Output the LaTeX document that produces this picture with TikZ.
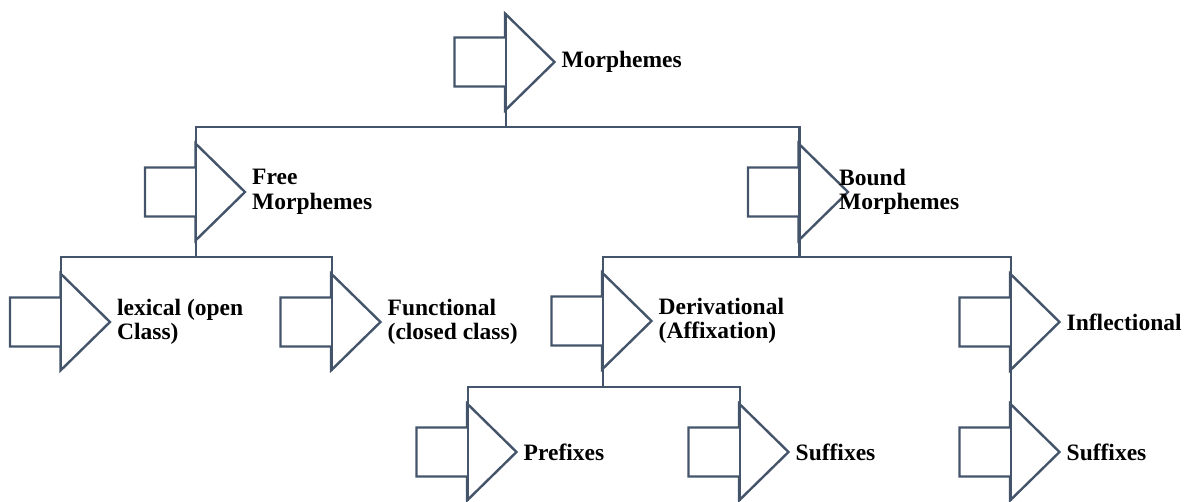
\documentclass[tikz,border=0pt]{standalone}
\usepackage{fontspec}
\setmainfont{Liberation Serif}
\usetikzlibrary{shapes.arrows}
\definecolor{slate}{HTML}{44546A}

\tikzset{
  blockarrow/.style={single arrow, inner xsep=0pt, inner ysep=24.5pt,
    outer sep=0pt, minimum height=100pt, minimum width=97pt, single arrow head extend=24pt,
    single arrow tip angle=90, anchor=tip},
  lbl/.style={anchor=west, align=left, inner sep=0pt, xshift=7pt,
    font=\bfseries\fontsize{23.5}{24.5}\selectfont},
  tree/.style={draw=slate, line width=2.4pt},
}

\begin{document}
\begin{tikzpicture}[x=1pt, y=-1pt]
\useasboundingbox (0, 0) rectangle (1189, 502);
% arrows
\node[blockarrow] (morph) at (554.5, 62) {};
\node[blockarrow] (free) at (245, 192) {};
\node[blockarrow] (bound) at (848, 192) {};
\node[blockarrow] (lex) at (110, 322) {};
\node[blockarrow] (func) at (380.5, 322) {};
\node[blockarrow] (deriv) at (651.5, 321) {};
\node[blockarrow] (infl) at (1059.5, 322) {};
\node[blockarrow] (pre) at (516.5, 452) {};
\node[blockarrow] (sufd) at (788.5, 452) {};
\node[blockarrow] (sufi) at (1059.5, 452) {};
\foreach \n in {morph, free, bound, lex, func, deriv, infl, pre, sufd, sufi}
  \draw[tree] (\n.tip) -- ++(-49.5, -48.5) -- ++(0, 24) -- ++(-50.5, 0) -- ++(0, 49)
    -- ++(50.5, 0) -- ++(0, 24) -- cycle;
% labels
\node[lbl] (morph-t) at (morph.tip) {Morphemes};
\node[lbl] (free-t) at (free.tip) {Free\\Morphemes};
\node[lbl, xshift=-16pt] (bound-t) at (bound.tip) {Bound\\Morphemes};
\node[lbl] (lex-t) at (lex.tip) {lexical (open\\Class)};
\node[lbl] (func-t) at (func.tip) {Functional\\(closed class)};
\node[lbl] (deriv-t) at (deriv.tip) {Derivational\\(Affixation)};
\node[lbl] (infl-t) at (infl.tip) {Inflectional};
\node[lbl] (pre-t) at (pre.tip) {Prefixes};
\node[lbl] (sufd-t) at (sufd.tip) {Suffixes};
\node[lbl] (sufi-t) at (sufi.tip) {Suffixes};
% tree lines
\coordinate (bus1) at (0, 127);
\coordinate (bus2) at (0, 257);
\coordinate (bus3) at (0, 387);
\draw[tree] (morph.before tip) -- (morph.before tip |- bus1) -| (free.after tip);
\draw[tree] (morph.before tip |- bus1) -| (bound.after tip);
\draw[tree] (free.before tip) -- (free.before tip |- bus2) -| (lex.after tip);
\draw[tree] (free.before tip |- bus2) -| (func.after tip);
\draw[tree] (bound.before tip) -- (bound.before tip |- bus2) -| (deriv.after tip);
\draw[tree] (bound.before tip |- bus2) -| (infl.after tip);
\draw[tree] (deriv.before tip) -- (deriv.before tip |- bus3) -| (pre.after tip);
\draw[tree] (deriv.before tip |- bus3) -| (sufd.after tip);
\draw[tree] (infl.before tip) -- (sufi.after tip);
\end{tikzpicture}
\end{document}
